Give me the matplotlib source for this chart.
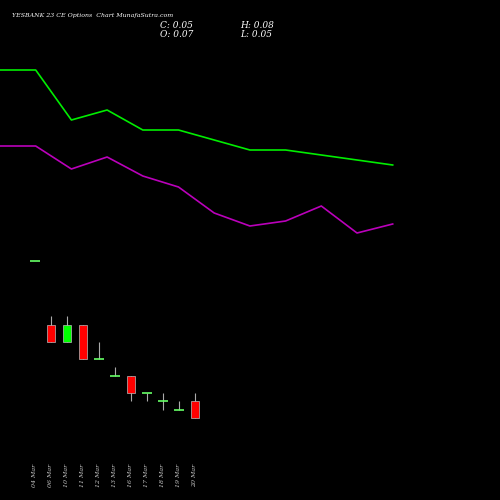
import matplotlib
matplotlib.use("Agg")
import matplotlib.pyplot as plt

dates = ["04 Mar","06 Mar","10 Mar","11 Mar","12 Mar","13 Mar","16 Mar","17 Mar","18 Mar","19 Mar","20 Mar"]
opens  = [0.235,0.16,0.14,0.16,0.12,0.10,0.10,0.08,0.07,0.06,0.07]
closes = [0.235,0.14,0.16,0.12,0.12,0.10,0.08,0.08,0.07,0.06,0.05]
highs  = [0.235,0.17,0.17,0.16,0.14,0.11,0.10,0.08,0.08,0.07,0.08]
lows   = [0.235,0.14,0.14,0.12,0.12,0.10,0.07,0.07,0.06,0.06,0.05]
green_line  = [430,430,380,390,370,370,360,350,350,345,340,335]
purple_line = [354,354,331,343,324,313,287,274,279,294,267,276]

fig = plt.figure(figsize=(5,5), dpi=100, facecolor="black")
ax = fig.add_axes([0,0,1,1]); ax.set_facecolor("black")
ax.set_xlim(-35/16, 465/16); ax.set_ylim(0.05-82/850, 0.05+418/850)
ax.axis("off")
for i,(o,c,h,l) in enumerate(zip(opens,closes,highs,lows)):
    ax.vlines(i, l, h, color="#aaaaaa", lw=0.8, zorder=1)
    if abs(o-c) < 1e-9:
        ax.hlines(o, i-0.3, i+0.3, color="#66ff66", lw=1.2, zorder=2)
    else:
        col = "#00ff00" if c > o else "#ff0000"
        ax.bar(i, abs(c-o), bottom=min(o,c), width=0.56, color=col, edgecolor="#bbbbbb", lw=0.5, zorder=2)
    ax.text(i, 0.05-57/850, dates[i], rotation=90, color="#cccccc", fontsize=4.5,
            family="DejaVu Serif", style="italic", ha="center", va="center")

ax2 = fig.add_axes([0,0,1,1], facecolor="none")
ax2.set_xlim(0, 500/35.7); ax2.set_ylim(0,500); ax2.axis("off")
ax2.plot(range(len(green_line)), green_line, color="#00ee00", lw=1.2)
ax2.plot(range(len(purple_line)), purple_line, color="#bb00bb", lw=1.2)

tk = dict(color="white", family="DejaVu Serif", style="italic")
fig.text(12/500, 1-15/500, "YESBANK 23 CE Options  Chart MunafaSutra.com", fontsize=4.5, va="center", **tk)
fig.text(160/500, 1-25/500, "C: 0.05", fontsize=6.5, va="center", **tk)
fig.text(160/500, 1-34/500, "O: 0.07", fontsize=6.5, va="center", **tk)
fig.text(240/500, 1-25/500, "H: 0.08", fontsize=6.5, va="center", **tk)
fig.text(240/500, 1-34/500, "L: 0.05", fontsize=6.5, va="center", **tk)
fig.savefig("out.png", facecolor="black")
